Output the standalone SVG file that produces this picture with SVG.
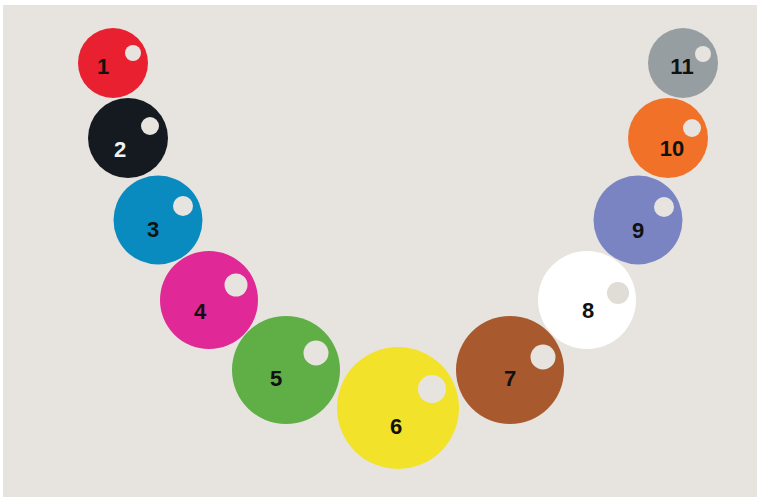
<svg xmlns="http://www.w3.org/2000/svg" width="757" height="497" viewBox="0 0 757 497">
<style>
.n{font-family:"Liberation Sans",Arial,sans-serif;font-weight:bold;font-size:22px;text-anchor:middle;fill:#111}
.h{fill:#e7e4df}
</style>
<rect width="757" height="497" fill="#ffffff"/>
<rect x="3" y="5" width="754" height="492" fill="#e7e4df"/>
<g id="node1"><circle cx="113" cy="63" r="35" fill="#e8202f"/><circle class="h" cx="133" cy="53" r="8"/><text class="n" x="103" y="74">1</text></g>
<g id="node2"><circle cx="128" cy="138" r="40" fill="#141a20"/><circle class="h" cx="150" cy="126" r="9"/><text class="n" x="120" y="157" style="fill:#f2f2f2">2</text></g>
<g id="node3"><circle cx="158" cy="220" r="44.5" fill="#0a8bbf"/><circle class="h" cx="183" cy="206" r="10"/><text class="n" x="153" y="237">3</text></g>
<g id="node4"><circle cx="209" cy="300" r="49" fill="#e02896"/><circle class="h" cx="236" cy="285" r="11.5"/><text class="n" x="200" y="319">4</text></g>
<g id="node5"><circle cx="286" cy="370" r="54" fill="#5fae46"/><circle class="h" cx="316" cy="353" r="12.5"/><text class="n" x="276" y="386">5</text></g>
<g id="node6"><circle cx="398" cy="408" r="61" fill="#f2e22a"/><circle class="h" cx="432" cy="389" r="14"/><text class="n" x="396" y="434">6</text></g>
<g id="node7"><circle cx="510" cy="370" r="54" fill="#a8592e"/><circle class="h" cx="543" cy="357" r="12.5"/><text class="n" x="510" y="386">7</text></g>
<g id="node8"><circle cx="587" cy="300" r="49" fill="#ffffff"/><circle cx="618" cy="293" r="11" fill="#e0dcd6"/><text class="n" x="588" y="318">8</text></g>
<g id="node9"><circle cx="638" cy="220" r="44.5" fill="#7b84c2"/><circle class="h" cx="664" cy="207" r="10"/><text class="n" x="638" y="238">9</text></g>
<g id="node10"><circle cx="668" cy="138" r="40" fill="#f07127"/><circle class="h" cx="692" cy="128" r="9"/><text class="n" x="672" y="156">10</text></g>
<g id="node11"><circle cx="683" cy="63" r="35" fill="#969ea1"/><circle class="h" cx="703" cy="54" r="8"/><text class="n" x="682" y="74">11</text></g>
<g id="connectors"/>
</svg>
